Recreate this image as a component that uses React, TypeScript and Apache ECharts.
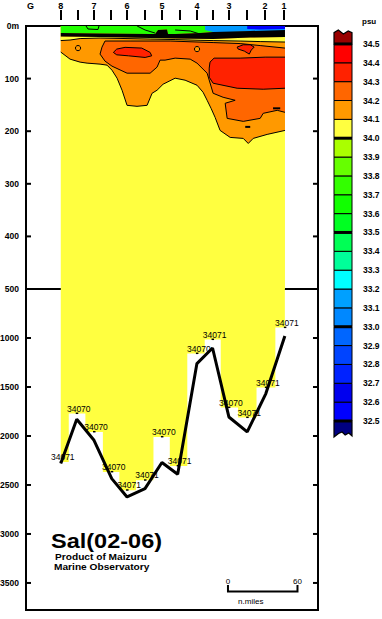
import React, { useEffect, useRef } from "react";
import * as echarts from "echarts";

const FONT = '"Liberation Sans", Arial, sans-serif';

// ---- stations (distance along section, n.miles from station 8) ----
const stationLabels = ["8", "7", "6", "5", "4", "3", "2", "1"];
const stationDist = [0, 28.7, 57.2, 87.4, 117.6, 145.2, 176.3, 192.7];

// ---- depth axis ticks (m) ----
const upperDepthTicks = [0, 100, 200, 300, 400, 500];
const lowerDepthTicks = [1000, 1500, 2000, 2500, 3000, 3500];

// ---- sea bottom and deepest observations ----
const bottomDist = [0, 13.8, 28.7, 44.0, 57.2, 72.7, 87.3, 100.9, 117.5, 131.0, 145.1, 160.9, 177.0, 193.4];
const bottomDepth = [2282, 1830, 2044, 2435, 2622, 2537, 2271, 2391, 1261, 1102, 1806, 1959, 1567, 980];
const deepestObsDepth = [2265, 1771, 1959, 2367, 2554, 2452, 2010, 2306, 1159, 1016, 1710, 1812, 1506, 894];
const deepestSal = [34.071, 34.07, 34.07, 34.07, 34.071, 34.071, 34.07, 34.071, 34.07, 34.071, 34.07, 34.071, 34.071, 34.071];

// ---- isohalines in upper section: [distance n.miles, depth m] ----
const iso341Lower = [[0, 49.6], [8.0, 63], [16.7, 68.7], [22.7, 70.6], [33.9, 72.5], [39.9, 74.4], [44.2, 84], [48.6, 99.2], [52.9, 122.1], [57.2, 150.8], [65.8, 152.7], [74.5, 150.8], [78.8, 127.9], [83.1, 122.1], [88.3, 110.7], [91.7, 106.9], [98.7, 99.2], [107.3, 103], [117.6, 112.6], [122.8, 125.9], [126.3, 141.2], [129.7, 156.5], [133.2, 173.7], [137.5, 198.5], [146.2, 211.8], [157.5, 213.7], [161.8, 223.3], [166.1, 213.7], [178.1, 206.1], [193.5, 198.5]];
const iso341Upper = [[0, 27.7], [8.0, 26.7], [16.7, 23.9], [33.9, 22.9], [77.1, 24.8], [98.7, 25.8], [120.2, 27.2], [131.5, 27.7], [154.8, 28.6], [172.1, 29.6], [193.5, 30.5]];
const iso342 = [[193.5, 42], [172.1, 37.2], [154.8, 33.4], [131.5, 31.5], [94.4, 28.6], [59.8, 28.6], [38.2, 28.6], [35.6, 40.1], [33.9, 53.4], [38.2, 66.8], [44.2, 76.3], [57.2, 89.7], [77.1, 89.7], [83.1, 78.2], [85.7, 64.9], [90.0, 64.9], [98.7, 61.1], [111.7, 63], [117.6, 70.6], [126.3, 89.7], [131.5, 127.9], [140.1, 135.5], [150.5, 141.2], [141.9, 146.9], [143.6, 175.6], [157.5, 181.3], [172.1, 175.6], [174.7, 166], [186.8, 160.3], [193.5, 164.1]];
const iso343East = [[193.5, 59.2], [176.4, 59.2], [154.8, 61.1], [132.3, 61.1], [128.8, 68.7], [128.1, 80.1], [128.1, 97.3], [131.5, 108.8], [152.2, 118.3], [174.7, 120.2], [193.5, 118.3]];
const iso343West = [[45.4, 50.2], [48.3, 43.9], [55.5, 40.6], [69.9, 42], [77.1, 50.2], [78.5, 56.7], [72.8, 59.8], [58.4, 56.7], [48.3, 54.8]];
const iso343Mid = [[152.2, 40.1], [157.5, 35.7], [163.5, 35.7], [166.9, 40.1], [164.4, 45.8], [162.7, 53.4], [158.4, 47.7], [153.1, 43.9]];
const smallCells341 = [[14.9, 42], [117.6, 43.9]];
const tinyMarks = [[[183.2, 156.5], [189.4, 156.5]], [[159.2, 191.8], [163.5, 191.8]]];
const denseBandTop = [[0, 13.4], [33.9, 14.3], [77.1, 15.3], [81.4, 15.3], [83.9, 7.6], [91.7, 6.7], [92.6, 15.3], [98.7, 15.3], [120.2, 13.4], [131.5, 11.5], [163.5, 9.5], [193.5, 7.6]];
const denseBandBottom = [[0, 20], [33.9, 21], [77.1, 22.9], [98.7, 23.9], [131.5, 24.8], [163.5, 21.9], [193.5, 21]];
const lowSalLight = [[124.5, 0], [193.5, 0], [193.5, 9.5], [163.5, 10.5], [146.2, 11.5], [131.5, 11.5], [124.5, 7.6]];
const lowSalDark = [[160.9, 0], [193.5, 0], [193.5, 5.7], [172.1, 6.7], [160.9, 5.7]];
const surfaceContours = [
  [[21.8, 0], [23.5, 5.7], [32.1, 6.7], [33, 0]],
  [[65.9, 0], [72.8, 7.6], [81.4, 13.4]],
  [[98.7, 7.6], [111.7, 9.5], [120.2, 15.3]],
];

// ---- colour scale ----
const colorLevels = [32.5, 32.6, 32.7, 32.8, 32.9, 33.0, 33.1, 33.2, 33.3, 33.4, 33.5, 33.6, 33.7, 33.8, 33.9, 34.0, 34.1, 34.2, 34.3, 34.4, 34.5];
const colorFills = ["#0000ff", "#0000ee", "#0022ff", "#0044ff", "#0066ff", "#0088ff", "#00a0ff", "#00ffff", "#00ff99", "#00ff55", "#00ff22", "#11ff00", "#33ff00", "#66ff00", "#aaff00", "#ffff40", "#ff9900", "#ff6600", "#ff2200", "#ff0000"];
const majorLevels = [32.5, 33.0, 33.5, 34.0, 34.5];
const capLowColor = "#000080";
const capHighColor = "#990000";

const X_MIN = -30;
const X_MAX = 222;

const C_YELLOW = "#ffff40";
const C_ORANGE = "#ff9900";
const C_ORANGERED = "#ff6600";
const C_RED = "#ff2200";
const C_GREEN = "#22ff00";
const C_LBLUE = "#0099ff";
const C_DBLUE = "#0000ff";

function polySeries(xIdx: number, yIdx: number, polys: number[][][], kind: string, style: any) {
  return {
    type: "custom",
    coordinateSystem: "cartesian2d",
    xAxisIndex: xIdx,
    yAxisIndex: yIdx,
    silent: true,
    clip: true,
    data: polys.map((p) => [p[0][0], p[0][1]]),
    renderItem: (params: any, api: any) => ({
      type: kind,
      shape: { points: polys[params.dataIndex].map((pt) => api.coord(pt)) },
      style,
    }),
  };
}

// inward depth ticks on both frame sides of a grid
function frameTicks(xIdx: number, yIdx: number, ticks: number[]) {
  return {
    type: "custom",
    coordinateSystem: "cartesian2d",
    xAxisIndex: xIdx,
    yAxisIndex: yIdx,
    silent: true,
    clip: false,
    z: 20,
    data: ticks.map((t) => [X_MIN + 1, t]),
    renderItem: (params: any, api: any) => {
      const t = ticks[params.dataIndex];
      const l = api.coord([X_MIN, t]);
      const r = api.coord([X_MAX, t]);
      return {
        type: "group",
        children: [
          { type: "line", shape: { x1: l[0], y1: l[1], x2: l[0] + 5, y2: l[1] }, style: { stroke: "#000", lineWidth: 2 } },
          { type: "line", shape: { x1: r[0] - 5, y1: r[1], x2: r[0], y2: r[1] }, style: { stroke: "#000", lineWidth: 2 } },
        ],
      };
    },
  };
}

function buildOption() {
  const n = bottomDist.length;
  const lastX = iso341Lower[iso341Lower.length - 1][0];
  const firstX = iso341Lower[0][0];
  const tickValues = stationDist.concat(
    stationDist.slice(0, stationDist.length - 2).map((d, i) => (d + stationDist[i + 1]) / 2)
  );

  const orangeFill = [[firstX, 0], ...iso341Lower, [lastX, 0]];
  const yellowBand = [...denseBandBottom, ...iso341Upper.slice().reverse()];
  const greenFill = [[firstX, 0], [lastX, 0], ...denseBandTop.slice().reverse()];
  const blackBand = [...denseBandTop, ...denseBandBottom.slice().reverse()];
  const baseFill = [[firstX, 0], [lastX, 0], [lastX, 500], [firstX, 500]];

  // stepped outline of the deep-water columns (each column spans the midpoints between samples)
  const deepSteps: number[][] = [[bottomDist[0], 500]];
  for (let i = 0; i < n; i++) {
    const l = i === 0 ? bottomDist[0] : (bottomDist[i - 1] + bottomDist[i]) / 2;
    const r = i === n - 1 ? bottomDist[n - 1] : (bottomDist[i] + bottomDist[i + 1]) / 2;
    deepSteps.push([l, deepestObsDepth[i]], [r, deepestObsDepth[i]]);
  }
  deepSteps.push([bottomDist[n - 1], 500]);

  const axisFont = { fontFamily: FONT, fontSize: 8.5, fontWeight: "bold", color: "#000" };
  const tickStyle = { color: "#000", width: 2 };
  const noLine = { show: false, onZero: false };
  const frameLine = { show: true, onZero: false, lineStyle: { color: "#000", width: 2 } };

  const series: any[] = [
    polySeries(0, 0, [baseFill], "polygon", { fill: C_YELLOW }),
    polySeries(0, 0, [orangeFill], "polygon", { fill: C_ORANGE }),
    polySeries(0, 0, [iso341Lower], "polyline", { stroke: "#000", lineWidth: 1, fill: null }),
    polySeries(0, 0, [iso342], "polygon", { fill: C_ORANGERED }),
    polySeries(0, 0, [iso342], "polyline", { stroke: "#000", lineWidth: 1, fill: null }),
    polySeries(0, 0, [iso343East], "polygon", { fill: C_RED }),
    polySeries(0, 0, [iso343East], "polyline", { stroke: "#000", lineWidth: 1, fill: null }),
    polySeries(0, 0, [iso343West, iso343Mid], "polygon", { fill: C_RED, stroke: "#000", lineWidth: 1 }),
    {
      type: "custom",
      coordinateSystem: "cartesian2d",
      xAxisIndex: 0,
      yAxisIndex: 0,
      silent: true,
      data: smallCells341,
      renderItem: (params: any, api: any) => {
        const p = api.coord(smallCells341[params.dataIndex]);
        return { type: "circle", shape: { cx: p[0], cy: p[1], r: 2.6 }, style: { fill: C_ORANGE, stroke: "#000", lineWidth: 1 } };
      },
    },
    polySeries(0, 0, tinyMarks, "polyline", { stroke: "#000", lineWidth: 2, fill: null }),
    polySeries(0, 0, [yellowBand], "polygon", { fill: C_YELLOW }),
    polySeries(0, 0, [iso341Upper], "polyline", { stroke: "#000", lineWidth: 1, fill: null }),
    polySeries(0, 0, [greenFill], "polygon", { fill: C_GREEN }),
    polySeries(0, 0, [lowSalLight], "polygon", { fill: C_LBLUE }),
    polySeries(0, 0, [lowSalDark], "polygon", { fill: C_DBLUE }),
    polySeries(0, 0, surfaceContours, "polyline", { stroke: "#000", lineWidth: 1, fill: null }),
    polySeries(0, 0, [blackBand], "polygon", { fill: "#000" }),
    frameTicks(0, 0, upperDepthTicks.slice(1, -1)),
    // ---- lower section: deep water columns ----
    polySeries(1, 2, [deepSteps], "polygon", { fill: C_YELLOW }),
    {
      type: "line",
      xAxisIndex: 1,
      yAxisIndex: 2,
      silent: true,
      symbol: "none",
      lineStyle: { color: "#000", width: 3 },
      data: bottomDist.map((d, i) => [d, bottomDepth[i]]),
      z: 3,
    },
    {
      type: "custom",
      coordinateSystem: "cartesian2d",
      xAxisIndex: 1,
      yAxisIndex: 2,
      silent: true,
      z: 4,
      data: bottomDist.map((d, i) => [d, deepestObsDepth[i]]),
      renderItem: (params: any, api: any) => {
        const i = params.dataIndex;
        const p = api.coord([bottomDist[i], deepestObsDepth[i]]);
        return {
          type: "group",
          children: [
            {
              type: "text",
              x: p[0] + 2,
              y: p[1] - 0.5,
              style: { text: String(Math.round(deepestSal[i] * 1000)), fill: "#000", font: `8.5px ${FONT}`, align: "center", verticalAlign: "bottom" },
            },
            { type: "rect", shape: { x: p[0] - 1, y: p[1] - 1, width: 2.5, height: 1.5 }, style: { fill: "#000" } },
          ],
        };
      },
    },
    frameTicks(1, 2, lowerDepthTicks),
    // ---- distance scale bar ----
    {
      type: "custom",
      coordinateSystem: "cartesian2d",
      xAxisIndex: 1,
      yAxisIndex: 2,
      silent: true,
      data: [[144.3, 3587]],
      renderItem: (params: any, api: any) => {
        const s = 144.3, L = 60, dep = 3587, top = 3520;
        const a = api.coord([s, top]);
        const b = api.coord([s, dep]);
        const c = api.coord([s + L, dep]);
        const d = api.coord([s + L, top]);
        const f = `8px ${FONT}`;
        return {
          type: "group",
          children: [
            { type: "polyline", shape: { points: [a, b, c, d] }, style: { stroke: "#000", lineWidth: 2, fill: null } },
            { type: "text", x: a[0], y: a[1] + 1, style: { text: "0", font: f, fill: "#000", align: "center", verticalAlign: "bottom" } },
            { type: "text", x: d[0], y: d[1] + 1, style: { text: String(L), font: f, fill: "#000", align: "center", verticalAlign: "bottom" } },
            { type: "text", x: (b[0] + c[0]) / 2 - 12, y: b[1] + 10.5, style: { text: "n.miles", font: f, fill: "#000", align: "center", verticalAlign: "middle" } },
          ],
        };
      },
    },
    // ---- colour bar ----
    {
      type: "custom",
      coordinateSystem: "cartesian2d",
      xAxisIndex: 2,
      yAxisIndex: 4,
      silent: true,
      data: colorFills.map((c, i) => [0, colorLevels[i]]),
      renderItem: (params: any, api: any) => {
        const i = params.dataIndex;
        const a = api.coord([0, colorLevels[i + 1]]);
        const b = api.coord([1, colorLevels[i]]);
        return { type: "rect", shape: { x: a[0], y: a[1], width: b[0] - a[0], height: b[1] - a[1] }, style: { fill: colorFills[i], stroke: "#000", lineWidth: 1 } };
      },
    },
    {
      type: "custom",
      coordinateSystem: "cartesian2d",
      xAxisIndex: 2,
      yAxisIndex: 4,
      silent: true,
      data: [[0, colorLevels[colorLevels.length - 1]], [0, colorLevels[0]]],
      renderItem: (params: any, api: any) => {
        const hi = params.dataIndex === 0;
        const lvl = hi ? colorLevels[colorLevels.length - 1] : colorLevels[0];
        const a = api.coord([0, lvl]);
        const b = api.coord([1, lvl]);
        const w = b[0] - a[0];
        const edgeY = hi ? api.coord([0, 34.574])[1] : api.coord([0, 32.415])[1];
        const wave = hi
          ? [[1, 2.7], [0.79, 1], [0.52, 4], [0.24, 0], [0, 2.7]]
          : [[1, -1], [0.82, -4], [0.62, -2], [0.45, -5], [0.25, -3.5], [0, 0]];
        const pts = [a, b, ...wave.map((q) => [a[0] + q[0] * w, edgeY + q[1]])];
        return { type: "polygon", shape: { points: pts }, style: { fill: hi ? capHighColor : capLowColor, stroke: "#000", lineWidth: 1.2 } };
      },
    },
    {
      type: "custom",
      coordinateSystem: "cartesian2d",
      xAxisIndex: 2,
      yAxisIndex: 4,
      silent: true,
      data: majorLevels.map((v) => [0, v]),
      renderItem: (params: any, api: any) => {
        const a = api.coord([0, majorLevels[params.dataIndex]]);
        const b = api.coord([1, majorLevels[params.dataIndex]]);
        return { type: "rect", shape: { x: a[0], y: a[1] - 1.5, width: b[0] - a[0], height: 3 }, style: { fill: "#000" } };
      },
    },
  ];

  const gridBase = { show: true, borderColor: "#000", borderWidth: 2, backgroundColor: "transparent", containLabel: false, outerBoundsMode: "none" };

  const depthAxis = (grid: number, side: string, min: number, max: number, ticks: number[], labels: boolean, fmt?: (v: number) => string) => ({
    gridIndex: grid,
    type: "value",
    inverse: true,
    min,
    max,
    position: side,
    axisLine: frameLine,
    splitLine: { show: false },
    axisTick: { show: false },
    axisLabel: labels ? { ...axisFont, customValues: ticks, margin: 7, formatter: fmt } : { show: false },
  });

  return {
    animation: false,
    backgroundColor: "#ffffff",
    textStyle: { fontFamily: FONT },
    grid: [
      { ...gridBase, left: 26, top: 26, width: 292, height: 263 },
      { ...gridBase, left: 26, top: 289, width: 292, height: 321 },
      { left: 334, top: 30, width: 18, height: 407, show: false, containLabel: false, outerBoundsMode: "none" },
    ],
    xAxis: [
      {
        gridIndex: 0,
        type: "value",
        min: X_MIN,
        max: X_MAX,
        position: "top",
        offset: 6,
        axisLine: noLine,
        splitLine: { show: false },
        axisTick: { show: true, inside: false, length: 10, customValues: tickValues, lineStyle: tickStyle },
        axisLabel: {
          show: true,
          customValues: stationDist,
          margin: 10,
          fontFamily: FONT,
          fontSize: 9,
          fontWeight: "bold",
          color: "#000",
          formatter: (v: number) => {
            let best = 0;
            stationDist.forEach((d, i) => {
              if (Math.abs(d - v) < Math.abs(stationDist[best] - v)) best = i;
            });
            return stationLabels[best];
          },
        },
      },
      {
        gridIndex: 1,
        type: "value",
        min: X_MIN,
        max: X_MAX,
        position: "top",
        axisLine: frameLine,
        axisTick: { show: false },
        axisLabel: { show: false },
        splitLine: { show: false },
      },
      { gridIndex: 2, type: "value", min: 0, max: 1, show: false, axisLine: noLine },
    ],
    yAxis: [
      depthAxis(0, "left", 0, 500, upperDepthTicks, true, (v: number) => (v === 0 ? "0m" : String(v))),
      depthAxis(0, "right", 0, 500, upperDepthTicks, false),
      depthAxis(1, "left", 500, 3776, lowerDepthTicks, true, (v: number) => String(v)),
      depthAxis(1, "right", 500, 3776, lowerDepthTicks, false),
      {
        gridIndex: 2,
        type: "value",
        min: 32.415,
        max: 34.574,
        position: "right",
        axisLine: noLine,
        splitLine: { show: false },
        axisTick: { show: false },
        axisLabel: { ...axisFont, customValues: colorLevels, margin: 11, formatter: (v: number) => v.toFixed(1) },
      },
    ],
    graphic: [
      { type: "text", x: 27, y: 6, style: { text: "G", font: `bold 9px ${FONT}`, fill: "#000", verticalAlign: "middle" } },
      { type: "text", x: 362, y: 21, style: { text: "psu", font: `bold 8px ${FONT}`, fill: "#000", verticalAlign: "middle" } },
      {
        type: "text",
        x: 51,
        y: 541,
        scaleX: 1.12,
        style: { text: "Sal(02-06)", font: `bold 21px ${FONT}`, lineHeight: 18, fill: "#000", verticalAlign: "middle" },
      },
      {
        type: "text",
        x: 55,
        y: 557,
        scaleX: 1.07,
        style: { text: "Product of Maizuru", font: `bold 9.5px ${FONT}`, lineHeight: 9.5, fill: "#000", verticalAlign: "middle" },
      },
      {
        type: "text",
        x: 54,
        y: 567,
        scaleX: 1.07,
        style: { text: "Marine Observatory", font: `bold 9.5px ${FONT}`, lineHeight: 9.5, fill: "#000", verticalAlign: "middle" },
      },
    ],
    series,
  };
}

export default function App() {
  const ref = useRef<HTMLDivElement>(null);
  useEffect(() => {
    document.body.style.margin = "0";
    const chart = echarts.init(ref.current as HTMLDivElement, undefined, { renderer: "svg" });
    chart.setOption(buildOption() as any);
    return () => chart.dispose();
  }, []);
  return <div ref={ref} style={{ width: 382, height: 619 }} />;
}
